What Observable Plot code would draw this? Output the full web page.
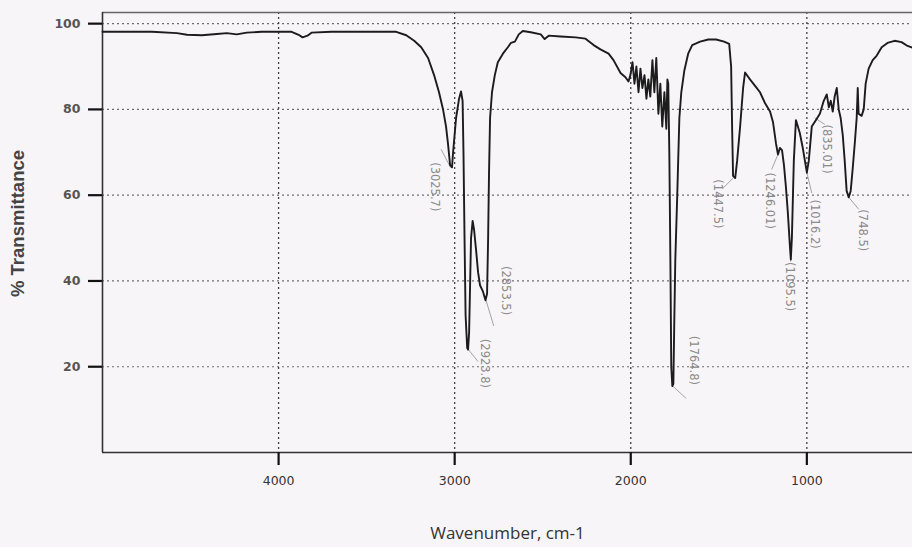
<!DOCTYPE html>
<html>
<head>
<meta charset="utf-8">
<script src="https://cdn.jsdelivr.net/npm/d3@7"></script>
<script src="https://cdn.jsdelivr.net/npm/@observablehq/plot@0.6"></script>
<style>
  html, body { margin: 0; padding: 0; background: #f8f5f8; }
  #chart { width: 912px; height: 547px; overflow: hidden; }
</style>
</head>
<body>
<div id="chart"></div>
<script>
// Spectrum
const wavenumber = [5000,4719,4577,4520,4436,4351,4294,4238,4181,4096,3926,3886,3864,3836,3813,3700,3332,3275,3230,3190,3151,3117,3089,3066,3049,3038,3026,3015,3009,2992,2975,2964,2955,2950,2944,2938,2929,2924,2918,2912,2907,2898,2890,2878,2867,2856,2839,2825,2816,2810,2805,2799,2788,2772,2755,2726,2698,2681,2658,2636,2613,2568,2511,2489,2466,2398,2313,2257,2211,2172,2126,2098,2058,2030,2013,2002,1990,1979,1968,1956,1945,1934,1922,1911,1900,1889,1877,1866,1855,1843,1832,1821,1809,1798,1792,1787,1781,1775,1770,1764,1758,1753,1747,1736,1724,1713,1696,1674,1651,1606,1560,1515,1470,1441,1430,1424,1419,1407,1396,1379,1362,1351,1323,1294,1266,1238,1209,1192,1175,1164,1153,1141,1130,1119,1108,1096,1091,1085,1074,1062,1051,1040,1023,1011,1000,989,972,949,926,904,887,875,864,853,842,830,819,808,796,785,774,762,751,740,728,717,711,706,689,677,666,649,626,604,575,542,502,462,428,400];
const transmittance = [98.1,98.1,97.8,97.4,97.3,97.6,97.8,97.5,97.9,98.1,98.1,97.4,96.8,97.2,97.9,98.1,98.1,97.3,96.0,94.5,92,88,84,80,76,72,67,66.5,70,78,82.5,84.2,82,70,50,32,24.4,24.0,28,40,50,54,52,47,42,39,37.5,35.5,37,50,65,78,84,88,91,93,94.5,95.5,95.8,97.5,98.3,98,97.5,96.4,97.2,97,96.8,96.5,95,94,93,91.5,88.5,87.5,86.5,88,91,86,90,84,89.5,85,88,82.5,87,83,91.5,84,92,79,86,76,84,75.5,87,86,70,45,20,15.5,16,30,45,60,78,84,89,93,95,95.8,96.3,96.3,95.8,95.3,90,75,64.5,64,68,76,85,88.6,87,85.5,84,81.5,79.5,77,72,69.5,71,70.5,67,62,56,48,45,50,68,77.5,76,74.5,71,68,65.3,68,76,77.5,79,82,83.5,80.5,82,79.5,83,85,80,78,74,68,61,59.5,61,66,72,78,85,79,78.5,80,86,89.5,91.5,92.5,94.5,95.5,96,95.7,94.8,94.4];

// Peak annotations
const peakLabels = ["(3025.7)","(2923.8)","(2853.5)","(1764.8)","(1447.5)","(1246.01)","(1095.5)","(1016.2)","(835.01)","(748.5)"];
const labelWn = [3111,2828,2709,1645,1509,1209,1096,955,887,683];
const labelT  = [67.7,26.5,43.5,27.2,63.7,65.3,44.4,59,76.5,56.7];
const tipWn   = [3024,2926,2822,1762,1419,1164,1091,1000,955,762];
const tipT    = [66.5,24.2,35.5,15.5,64,69.5,45,65.3,78,59.5];
const footWn  = [3077,2867,2778,1685,1481,1200,1093,972,898,705];
const footT   = [70.7,21.2,29.5,12.6,61.4,66,44.5,60.5,76.5,56.7];

// Axis ticks
const xTicks = [4000,3000,2000,1000];
const yTicks = [20,40,60,80,100];
const xTitle = "Wavenumber, cm-1";
const yTitle = "% Transmittance";

const spectrum = wavenumber.map((w, i) => ({w, t: transmittance[i]}));
const peaks = peakLabels.map((s, i) => ({s, lx: labelWn[i], ly: labelT[i], tx: tipWn[i], ty: tipT[i], fx: footWn[i], fy: footT[i]}));

const xMax = 5000, xMin = 400, yMax = 102.6;
const W = 912, H = 547, mL = 102, mT = 12, mB = 95;
const frameH = H - mT - mB, frameW = W - mL;
const tickLenY = 13 * yMax / frameH;
const tickLenX = 14 * (xMax - xMin) / frameW;

const chart = Plot.plot({
  width: W,
  height: H,
  marginLeft: mL,
  marginRight: 0,
  marginTop: mT,
  marginBottom: mB,
  clip: false,
  style: {background: "#f8f5f8", fontFamily: "DejaVu Sans", overflow: "visible"},
  x: {domain: [xMax, xMin]},
  y: {domain: [0, yMax]},
  marks: [
    Plot.gridX(xTicks, {stroke: "#222", strokeOpacity: 0.85, strokeWidth: 1.3, strokeDasharray: "2,3"}),
    Plot.gridY(yTicks, {stroke: "#333", strokeOpacity: 0.7, strokeWidth: 1.2, strokeDasharray: "2,3"}),
    Plot.ruleY([yMax], {stroke: "#666", strokeWidth: 1.5}),
    Plot.ruleY([0], {stroke: "#333", strokeWidth: 1.6}),
    Plot.ruleX([xMax], {stroke: "#333", strokeWidth: 1.6}),
    Plot.ruleX(xTicks, {x: d => d, y1: () => 0, y2: () => -tickLenY, stroke: "#111", strokeWidth: 2.2, clip: false}),
    Plot.ruleY(yTicks, {y: d => d, x1: () => xMax, x2: () => xMax + tickLenX, stroke: "#111", strokeWidth: 2.2, clip: false}),
    Plot.axisX({ticks: xTicks, tickSize: 0, tickPadding: 24, tickFormat: d3.format("d"), fontSize: 12.5, fill: "#333", label: null}),
    Plot.axisY({ticks: yTicks, tickSize: 0, tickPadding: 22, tickFormat: d3.format("d"), fontSize: 12.5, fontWeight: "bold", fill: "#555", label: null}),
    Plot.link(peaks, {x1: "tx", y1: "ty", x2: "fx", y2: "fy", stroke: "#9a9a9a", strokeWidth: 0.9}),
    Plot.line(spectrum, {x: "w", y: "t", stroke: "#1c1c1c", strokeWidth: 1.9, strokeLinejoin: "round"}),
    Plot.text(peaks, {x: "lx", y: "ly", text: "s", rotate: 90, textAnchor: "start", lineAnchor: "middle", fontSize: 11.5, fill: "#8a8a8a"}),
    Plot.text([xTitle], {frameAnchor: "bottom", dy: 86, text: d => d, fontFamily: "Open Sans", fontSize: 17, fill: "#333"}),
    Plot.text([yTitle], {frameAnchor: "left", dx: -84, dy: -9, rotate: -90, textAnchor: "middle", text: d => d, fontFamily: "Liberation Sans", fontWeight: "bold", fontSize: 18.5, letterSpacing: 2.3, fill: "#444"})
  ]
});
document.getElementById("chart").appendChild(chart);
</script>
</body>
</html>
